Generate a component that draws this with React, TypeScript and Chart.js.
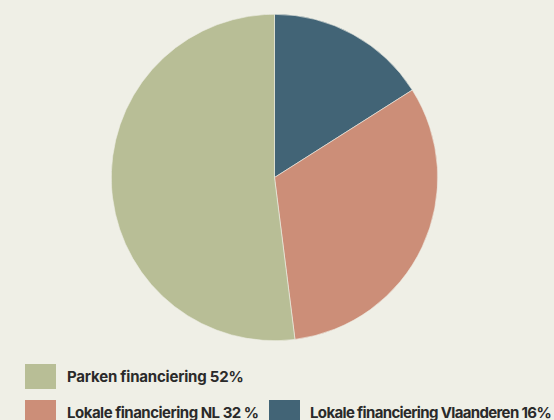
import React, { useEffect, useRef } from "react";
import { Chart, registerables } from "chart.js";

Chart.register(...registerables);

const labels = ["Lokale financiering Vlaanderen", "Lokale financiering NL", "Parken financiering"];
const values = [16, 32, 52];
const colors = ["#426476", "#cc8e78", "#b8be96"];
const legendTexts = ["Parken financiering 52%", "Lokale financiering NL 32 %", "Lokale financiering Vlaanderen 16%"];
const legendColors = ["#b8be96", "#cc8e78", "#426476"];

const BG = "#efefe6";

export default function App() {
  const ref = useRef<HTMLCanvasElement | null>(null);
  useEffect(() => {
    if (!ref.current) return;
    const chart = new Chart(ref.current, {
      type: "pie",
      data: {
        labels,
        datasets: [
          {
            data: values,
            backgroundColor: colors,
            borderColor: BG,
            borderWidth: 0.6,
          },
        ],
      },
      options: {
        responsive: false,
        animation: false,
        plugins: { legend: { display: false }, tooltip: { enabled: false } },
        layout: { padding: 0 },
      },
    });
    return () => chart.destroy();
  }, []);

  const font: React.CSSProperties = {
    fontFamily: "Inter, 'Noto Sans', sans-serif",
    fontWeight: 700,
    fontSize: 15,
    color: "#2a2a2a",
    position: "absolute",
    whiteSpace: "nowrap",
    lineHeight: "25px",
  };
  const sq = (left: number, top: number, c: string): React.CSSProperties => ({
    position: "absolute",
    left,
    top,
    width: 31,
    height: 25,
    background: c,
  });

  return (
    <div style={{ position: "fixed", left: 0, top: 0, width: 554, height: 420, background: BG, overflow: "hidden" }}>
      <canvas ref={ref} width={327} height={327} style={{ position: "absolute", left: 111, top: 14, width: 327, height: 327 }} />
      <div style={sq(25, 364, legendColors[0])} />
      <div style={{ ...font, left: 67, top: 364, letterSpacing: "-0.2px" }}>{legendTexts[0]}</div>
      <div style={sq(25, 400, legendColors[1])} />
      <div style={{ ...font, left: 67, top: 400, letterSpacing: "-0.5px" }}>{legendTexts[1]}</div>
      <div style={sq(269, 400, legendColors[2])} />
      <div style={{ ...font, left: 310, top: 400, letterSpacing: "-0.65px" }}>{legendTexts[2]}</div>
    </div>
  );
}
